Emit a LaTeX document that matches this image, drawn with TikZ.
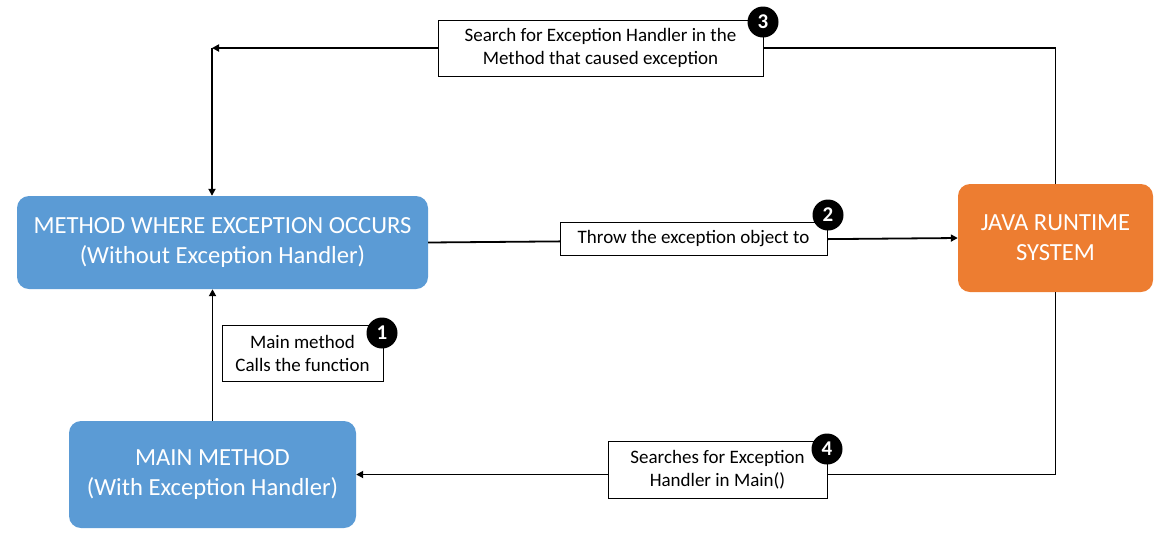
\documentclass[tikz,border=0pt]{standalone}
\usepackage{fontspec}
\setmainfont{Carlito}
\usetikzlibrary{arrows.meta,calc}
\definecolor{boxblue}{HTML}{5B9BD5}
\definecolor{boxorange}{HTML}{ED7D31}
\tikzset{
  procbox/.style={rounded corners=12pt, draw=none, text=white, align=center,
    font=\fontsize{24.6}{30}\selectfont, inner sep=0pt},
  labelbox/.style={draw=black, line width=1pt, fill=white, align=center,
    font=\fontsize{19}{23}\selectfont, inner sep=0pt},
  badge/.style={circle, fill=black, text=white, inner sep=0pt, minimum size=31pt,
    font=\fontsize{21}{21}\selectfont\bfseries},
  conn/.style={line width=1.8pt, -{Triangle[length=7pt,width=7pt]}},
  plain/.style={line width=1.8pt}
}
\begin{document}
\begin{tikzpicture}[x=1pt,y=-1pt]
\useasboundingbox (0,0) rectangle (1164,539);
\node[procbox, fill=boxblue, minimum width=411pt, minimum height=93pt] (m) at (222.5,242.5)
  {METHOD WHERE EXCEPTION OCCURS\\(Without Exception Handler)};
\node[procbox, fill=boxblue, minimum width=287pt, minimum height=107pt] (mm) at (212.5,474.5)
  {MAIN METHOD\\(With Exception Handler)};
\node[procbox, fill=boxorange, minimum width=195pt, minimum height=108pt] (j) at (1055.5,238)
  {JAVA RUNTIME\\SYSTEM};
\coordinate (c3) at (212,48);
% connectors
\draw[conn] (mm.north) -- (mm.north |- m.south);
\draw[conn] (m.east) -- (j.west);
\draw[conn] (j.north) |- (c3);
\draw[conn] (c3) -- (c3 |- m.north);
\draw[conn] (j.south) |- (mm.east);
% labels
\node[labelbox, minimum width=161pt, minimum height=56pt] (l1) at (302.5,353) {Main method\\Calls the function};
\node[labelbox, minimum width=267pt, minimum height=33pt] (l2) at (693.5,238.5) {Throw the exception object to};
\node[labelbox, minimum width=325pt, minimum height=56pt] (l3) at (600.5,48) {Search for Exception Handler in the\\Method that caused exception};
\node[labelbox, minimum width=219pt, minimum height=57pt] (l4) at (717.5,469.5) {Searches for Exception\\Handler in Main()};
% badges
\node[badge] (b1) at (382,333) {1};
\node[badge] (b2) at (828,215) {2};
\node[badge] (b3) at (763,22) {3};
\node[badge] (b4) at (827,449) {4};
\end{tikzpicture}
\end{document}
